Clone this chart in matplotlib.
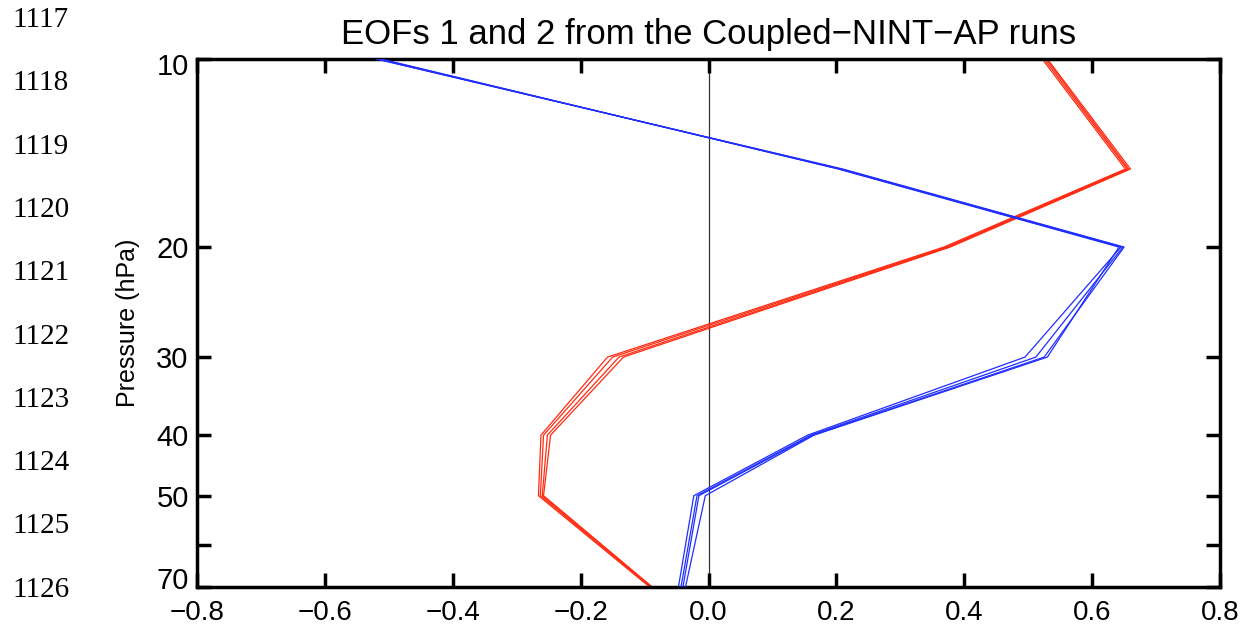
import numpy as np
import matplotlib.pyplot as plt
from matplotlib.transforms import ScaledTranslation

# Data: pressure levels and EOF profiles for four runs each
pressure = [10, 15, 20, 30, 40, 50, 70]

eof_blue = [
    [-0.515, 0.205, 0.645, 0.495, 0.155, -0.023, -0.047],
    [-0.518, 0.207, 0.648, 0.512, 0.160, -0.018, -0.043],
    [-0.520, 0.210, 0.650, 0.525, 0.163, -0.015, -0.040],
    [-0.512, 0.203, 0.642, 0.530, 0.165, -0.005, -0.036],
]
eof_red = [
    [0.522, 0.652, 0.368, -0.158, -0.262, -0.266, -0.092],
    [0.525, 0.655, 0.372, -0.150, -0.258, -0.263, -0.090],
    [0.528, 0.657, 0.375, -0.140, -0.252, -0.260, -0.089],
    [0.530, 0.660, 0.378, -0.133, -0.247, -0.258, -0.088],
]

yticks = [10, 20, 30, 40, 50, 60, 70]
yticklabels = ['10', '20', '30', '40', '50', '', '70']
xticks = [-0.8, -0.6, -0.4, -0.2, 0.0, 0.2, 0.4, 0.6, 0.8]
line_numbers = list(range(1117, 1127))

plt.rcParams['font.family'] = ['Liberation Sans', 'DejaVu Sans']

W, H = 1248, 625
fig = plt.figure(figsize=(W / 100, H / 100), dpi=100)
ax = fig.add_axes([197 / W, 1 - 587 / H, (1220 - 197) / W, (587 - 59) / H])

ax.axvline(0, color='#333333', lw=0.9, zorder=1)
for run in eof_red:
    ax.plot(run, pressure, color='#ff2a10', lw=0.9, zorder=2)
for run in eof_blue:
    ax.plot(run, pressure, color='#1f2dff', lw=0.9, zorder=3)

ax.set_yscale('log')
ax.set_ylim(70, 10)
ax.set_xlim(-0.8, 0.8)
ax.minorticks_off()
ax.set_yticks(yticks)
ax.set_yticklabels(yticklabels)
ax.set_xticks(xticks)
ax.set_xticklabels([f'{v:.1f}'.replace('-', '\u2212') for v in xticks])

ax.tick_params(direction='in', length=10, width=2.5,
               top=True, right=True)
ax.tick_params(axis='x', labelsize=20, pad=9)
ax.tick_params(axis='y', labelsize=21, pad=6)
for s in ax.spines.values():
    s.set_linewidth(2.5)

# end labels sit a little inside the axis range, as in the original
ylabs = ax.get_yticklabels()
ylabs[0].set_transform(ylabs[0].get_transform() + ScaledTranslation(0, -5 / 100, fig.dpi_scale_trans))
ylabs[-1].set_transform(ylabs[-1].get_transform() + ScaledTranslation(0, 9 / 100, fig.dpi_scale_trans))

ax.set_ylabel('Pressure (hPa)', fontsize=18, labelpad=12)
ax.set_title('EOFs 1 and 2 from the Coupled\u2212NINT\u2212AP runs',
             fontsize=25, pad=11)

# manuscript line numbers in the left margin
for i, n in enumerate(line_numbers):
    fig.text(12 / W, 1 - (20 + i * 63.3) / H, str(n), family='Liberation Serif',
             fontsize=21, va='center', ha='left')

fig.savefig('out.png', dpi=100)
